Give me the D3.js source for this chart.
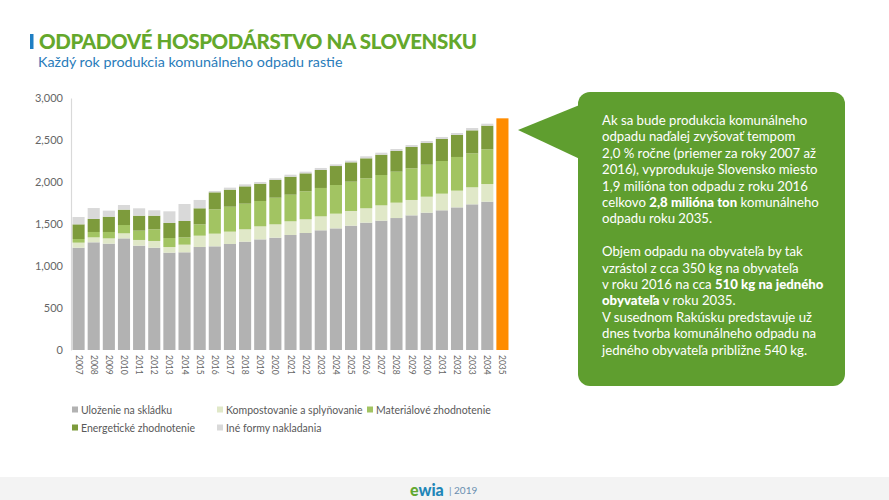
<!DOCTYPE html>
<html>
<head>
<meta charset="utf-8">
<script src="https://cdn.jsdelivr.net/npm/d3@7"></script>
<style>
  html, body { margin: 0; padding: 0; background: #ffffff; }
  svg { display: block; font-family: Lato, "Open Sans", sans-serif; }
</style>
</head>
<body>
<svg id="chart" width="889" height="500"></svg>
<script>
// ---- DATA ----
const years = ["2007","2008","2009","2010","2011","2012","2013","2014","2015","2016","2017","2018","2019","2020","2021","2022","2023","2024","2025","2026","2027","2028","2029","2030","2031","2032","2033","2034","2035"];
const seriesNames = ["Uloženie na skládku","Kompostovanie a splyňovanie","Materiálové zhodnotenie","Energetické zhodnotenie","Iné formy nakladania"];
const skladka      = [1218,1282,1266,1329,1242,1218,1159,1163,1226,1234,1262,1290,1317,1337,1369,1393,1425,1448,1480,1516,1540,1571,1603,1635,1663,1698,1734,1766,0];
const kompost      = [60,59,63,60,68,80,67,91,135,151,147,147,155,159,163,163,166,175,175,171,182,183,183,190,198,199,203,210,0];
const materialove  = [43,64,76,99,111,139,107,87,135,290,297,305,302,317,317,333,338,341,349,357,361,369,377,381,389,401,404,413,0];
const energeticke  = [175,155,182,183,178,162,179,195,191,202,203,206,206,211,214,214,214,226,230,238,242,246,254,258,262,262,274,282,0];
const ine          = [87,130,72,55,88,64,139,202,99,16,24,24,20,20,24,20,24,20,20,24,24,24,23,24,24,23,28,23,0];
const projekcia2035 = [0,0,0,0,0,0,0,0,0,0,0,0,0,0,0,0,0,0,0,0,0,0,0,0,0,0,0,0,2758];
const yTicks = [0,500,1000,1500,2000,2500,3000];

const seriesColors = ["#b2b2b2","#e0e8c8","#a2c462","#7d9b3c","#d9d9d9"];
const projColor = "#ff8c00";

const svg = d3.select("#chart");

// ---- Title ----
svg.append("rect").attr("x",30).attr("y",34).attr("width",3.5).attr("height",15).attr("fill","#1f7fc4");
svg.append("text").attr("x",39).attr("y",49).attr("font-size",20.5).attr("font-weight",900)
  .attr("fill","#64a82c").attr("letter-spacing",-0.4).text("ODPADOVÉ HOSPODÁRSTVO NA SLOVENSKU");
svg.append("text").attr("x",38).attr("y",67).attr("font-size",14.3)
  .attr("fill","#2a7cba").text("Každý rok produkcia komunálneho odpadu rastie");

// ---- Scales ----
const x = d3.scaleBand().domain(years).range([71,510]).paddingInner(0.2).paddingOuter(0.1);
const y = d3.scaleLinear().domain([0,3000]).range([350,98]);

// ---- Stack ----
const rows = years.map((yr,i)=>({year:yr, s0:skladka[i], s1:kompost[i], s2:materialove[i], s3:energeticke[i], s4:ine[i], p:projekcia2035[i]}));
const keys = ["s0","s1","s2","s3","s4"];
const stacked = d3.stack().keys(keys)(rows);

const g = svg.append("g");
stacked.forEach((layer,li)=>{
  g.append("g").attr("fill",seriesColors[li])
    .selectAll("rect").data(layer).join("rect")
    .attr("x",d=>x(d.data.year)).attr("width",x.bandwidth())
    .attr("y",d=>y(d[1])).attr("height",d=>Math.max(0,y(d[0])-y(d[1])));
});
g.append("g").attr("fill",projColor).selectAll("rect").data(rows.filter(r=>r.p>0)).join("rect")
  .attr("x",d=>x(d.year)).attr("width",x.bandwidth())
  .attr("y",d=>y(d.p)).attr("height",d=>y(0)-y(d.p));

// ---- Axes ----
const yAxis = svg.append("g").attr("transform","translate(71,0)")
  .call(d3.axisLeft(y).tickValues(yTicks).tickFormat(d3.format(",")).tickSize(0).tickPadding(8));
yAxis.select(".domain").attr("stroke","#d9d9d9").attr("stroke-width",1.2);
yAxis.selectAll("text").attr("font-size",11).attr("fill","#666").attr("font-family","Lato, sans-serif");

const xAxis = svg.append("g").attr("transform","translate(0,352)")
  .call(d3.axisBottom(x).tickSize(0).tickPadding(0));
xAxis.select(".domain").remove();
xAxis.selectAll("text").attr("font-size",8.5).attr("fill","#666").attr("font-family","Lato, sans-serif")
  .attr("transform","rotate(90)").attr("text-anchor","start").attr("dy","0.35em").attr("x",3).attr("y",0);

// ---- Legend ----
const legendPos = [[72,410],[217,410],[367,410],[72,428],[217,428]];
const legend = svg.append("g");
seriesNames.forEach((name,i)=>{
  const [lx,ly] = legendPos[i];
  legend.append("rect").attr("x",lx).attr("y",ly-3.5).attr("width",6).attr("height",6).attr("fill",seriesColors[i]);
  legend.append("text").attr("x",lx+9).attr("y",ly).attr("dy","0.35em").attr("font-size",10.5)
    .attr("fill","#595959").text(name);
});

// ---- Callout ----
const calloutColor = "#5f9e2f";
svg.append("path").attr("d","M518,130 L582,104 L582,160 Z").attr("fill",calloutColor);
svg.append("rect").attr("x",578).attr("y",92).attr("width",267).attr("height",294).attr("rx",12).attr("fill",calloutColor);

const calloutLines = [
  [["Ak sa bude produkcia komunálneho",false]],
  [["odpadu naďalej zvyšovať tempom",false]],
  [["2,0 % ročne (priemer za roky 2007 až",false]],
  [["2016), vyprodukuje Slovensko miesto",false]],
  [["1,9 milióna ton odpadu z roku 2016",false]],
  [["celkovo ",false],["2,8 milióna ton",true],[" komunálneho",false]],
  [["odpadu roku 2035.",false]],
  [],
  [["Objem odpadu na obyvateľa by tak",false]],
  [["vzrástol z cca 350 kg na obyvateľa",false]],
  [["v roku 2016 na cca ",false],["510 kg na jedného",true]],
  [["obyvateľa",true],[" v roku 2035.",false]],
  [["V susednom Rakúsku predstavuje už",false]],
  [["dnes tvorba komunálneho odpadu na",false]],
  [["jedného obyvateľa približne 540 kg.",false]]
];
const ct = svg.append("g");
calloutLines.forEach((parts,i)=>{
  if(!parts.length) return;
  const t = ct.append("text").attr("x",602).attr("y",125+i*16.4).attr("font-size",13.2).attr("fill","#ffffff");
  parts.forEach(([txt,b])=>{ t.append("tspan").attr("font-weight",b?900:400).text(txt); });
});

// ---- Footer ----
svg.append("rect").attr("x",0).attr("y",477).attr("width",889).attr("height",23).attr("fill","#f3f3f3");
const ft = svg.append("text").attr("x",410).attr("y",496).attr("font-size",16).attr("font-weight",900);
ft.append("tspan").attr("fill","#62a830").text("e");
ft.append("tspan").attr("fill","#1f86b8").text("wia");
svg.append("text").attr("x",449).attr("y",494).attr("font-size",10).attr("fill","#6a8fb0").text("| 2019");
</script>
</body>
</html>
